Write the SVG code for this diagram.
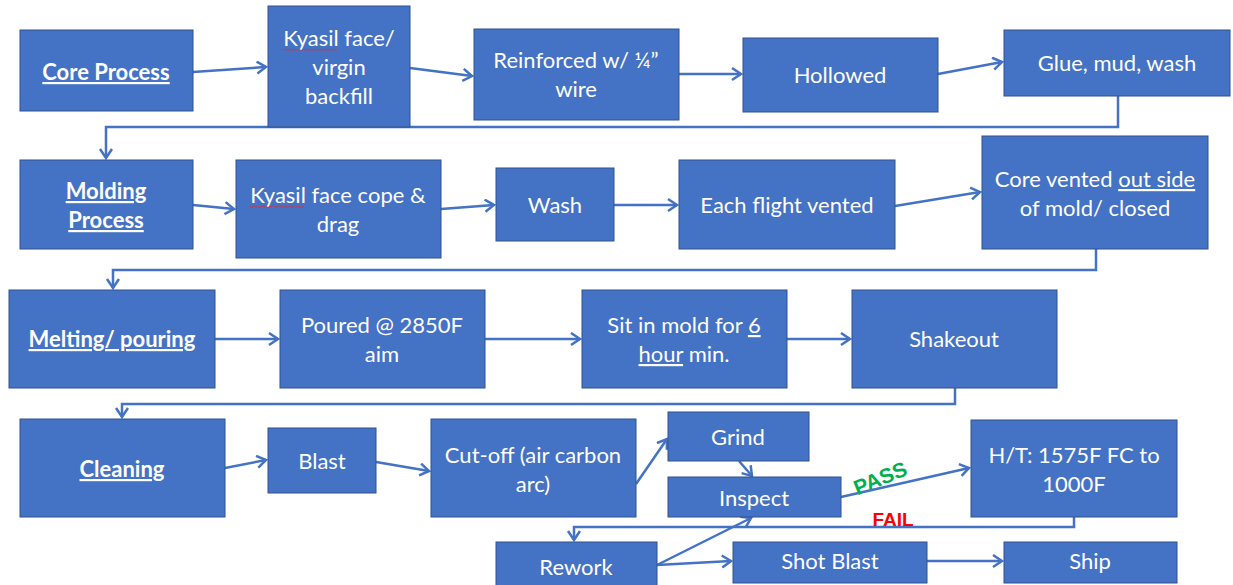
<svg xmlns="http://www.w3.org/2000/svg" width="1233" height="585" viewBox="0 0 1233 585">
<style>
.box{fill:#4472C4;stroke:#2F528F;stroke-width:1}
.t{font-family:Lato,"Open Sans","Liberation Sans",sans-serif;font-size:22px;fill:#fff;text-anchor:middle}
.b{font-weight:bold;text-decoration:underline}
.u{text-decoration:underline}
.c{fill:none;stroke:#4472C4;stroke-width:2.5;marker-end:url(#ah)}
.sq{fill:none;stroke:#E03030;stroke-width:0.8}
.lbl{font-family:"Liberation Sans",Arial,sans-serif;font-size:19px;font-weight:bold;text-anchor:middle}
</style>
<defs>
<marker id="ah" markerUnits="userSpaceOnUse" markerWidth="16" markerHeight="16" refX="11" refY="7" orient="auto">
<path d="M2,1 L11,7 L2,13" fill="none" stroke="#4472C4" stroke-width="2.5"/>
</marker>
</defs>
<rect width="1233" height="585" fill="#fff"/>

<g id="connectors">
<path class="c" d="M193,72 L266,67"/>
<path class="c" d="M410,68 L472,76"/>
<path class="c" d="M679,74 L741,74"/>
<path class="c" d="M938,74 L1002,62"/>
<path class="c" d="M1118,96 V127 H106 V158"/>
<path class="c" d="M193,205 L234,209"/>
<path class="c" d="M441,209 L494,205"/>
<path class="c" d="M614,205 L677,205"/>
<path class="c" d="M895,206 L980,192"/>
<path class="c" d="M1096,249 V270 H113 V288"/>
<path class="c" d="M215,339 L278,339"/>
<path class="c" d="M485,339 L580,339"/>
<path class="c" d="M787,339 L850,339"/>
<path class="c" d="M955,388 V404 H122 V417"/>
<path class="c" d="M225,468 L266,460"/>
<path class="c" d="M376,462 L429,471"/>
<path class="c" d="M636,484 L667,439"/>
<path class="c" d="M739,461 L752,476"/>
<path class="c" d="M841,497 L969,468"/>
<path class="c" d="M1074,517 V527 H574 V540"/>
<path class="c" d="M657,565 L751,518"/>
<path class="c" d="M657,565 L731,561"/>
<path class="c" d="M927,561 L1002,561"/>
<text class="lbl" x="0" y="0" fill="#00B050" style="font-size:21px" transform="translate(883,485) rotate(-22)">PASS</text>
<text class="lbl" x="893" y="526" fill="#FF0000">FAIL</text>
</g>

<g id="core-process"><rect class="box" x="20" y="30" width="173" height="81"/><text class="t b" x="106" y="80">Core Process</text></g>
<g id="kyasil-virgin"><rect class="box" x="268" y="6" width="142" height="121"/>
<text class="t" x="339" y="46">Kyasil face/</text><text class="t" x="339" y="75">virgin</text><text class="t" x="339" y="104">backfill</text>
<path class="sq" d="M283,49 l2,1.5 l2,-1.5 l2,1.5 l2,-1.5 l2,1.5 l2,-1.5 l2,1.5 l2,-1.5 l2,1.5 l2,-1.5 l2,1.5 l2,-1.5 l2,1.5 l2,-1.5 l2,1.5 l2,-1.5 l2,1.5 l2,-1.5 l2,1.5 l2,-1.5 l2,1.5 l2,-1.5 l2,1.5 l2,-1.5 l2,1.5 l2,-1.5 l2,1.5"/></g>
<g id="reinforced"><rect class="box" x="474" y="29" width="205" height="91"/><text class="t" x="576" y="68">Reinforced w/ ¼”</text><text class="t" x="576" y="97">wire</text></g>
<g id="hollowed"><rect class="box" x="743" y="38" width="195" height="74"/><text class="t" x="840" y="83">Hollowed</text></g>
<g id="glue"><rect class="box" x="1004" y="30" width="226" height="66"/><text class="t" x="1117" y="71">Glue, mud, wash</text></g>

<g id="molding-process"><rect class="box" x="20" y="160" width="173" height="89"/><text class="t b" x="106" y="199">Molding</text><text class="t b" x="106" y="228">Process</text></g>
<g id="kyasil-cope"><rect class="box" x="236" y="160" width="205" height="98"/><text class="t" x="338" y="203">Kyasil face cope &amp;</text><text class="t" x="338" y="232">drag</text>
<path class="sq" d="M250,206 l2,1.5 l2,-1.5 l2,1.5 l2,-1.5 l2,1.5 l2,-1.5 l2,1.5 l2,-1.5 l2,1.5 l2,-1.5 l2,1.5 l2,-1.5 l2,1.5 l2,-1.5 l2,1.5 l2,-1.5 l2,1.5 l2,-1.5 l2,1.5 l2,-1.5 l2,1.5 l2,-1.5 l2,1.5 l2,-1.5 l2,1.5 l2,-1.5 l2,1.5"/></g>
<g id="wash"><rect class="box" x="496" y="168" width="118" height="73"/><text class="t" x="555" y="213">Wash</text></g>
<g id="each-flight"><rect class="box" x="679" y="160" width="216" height="89"/><text class="t" x="787" y="213">Each flight vented</text></g>
<g id="core-vented"><rect class="box" x="982" y="136" width="226" height="113"/><text class="t" x="1095" y="187">Core vented <tspan class="u">out side</tspan></text><text class="t" x="1095" y="216">of mold/ closed</text></g>

<g id="melting"><rect class="box" x="9" y="290" width="206" height="98"/><text class="t b" x="112" y="347">Melting/ pouring</text></g>
<g id="poured"><rect class="box" x="280" y="290" width="205" height="98"/><text class="t" x="382" y="333">Poured @ 2850F</text><text class="t" x="382" y="362">aim</text></g>
<g id="sit-in-mold"><rect class="box" x="582" y="290" width="205" height="98"/><text class="t" x="684" y="333">Sit in mold for <tspan class="u">6 </tspan></text><text class="t" x="684" y="362"><tspan class="u">hour</tspan> min.</text></g>
<g id="shakeout"><rect class="box" x="852" y="290" width="205" height="98"/><text class="t" x="954" y="347">Shakeout</text></g>

<g id="cleaning"><rect class="box" x="20" y="419" width="205" height="98"/><text class="t b" x="122" y="477">Cleaning</text></g>
<g id="blast"><rect class="box" x="268" y="428" width="108" height="65"/><text class="t" x="322" y="469">Blast</text></g>
<g id="cut-off"><rect class="box" x="431" y="419" width="205" height="98"/><text class="t" x="533" y="463">Cut-off (air carbon</text><text class="t" x="533" y="492">arc)</text></g>
<g id="grind"><rect class="box" x="668" y="412" width="141" height="49"/><text class="t" x="738" y="445">Grind</text></g>
<g id="inspect"><rect class="box" x="668" y="477" width="173" height="40"/><text class="t" x="754" y="506">Inspect</text></g>
<g id="ht"><rect class="box" x="971" y="420" width="206" height="97"/><text class="t" x="1074" y="463">H/T: 1575F FC to</text><text class="t" x="1074" y="492">1000F</text></g>
<g id="rework"><rect class="box" x="496" y="542" width="161" height="45"/><text class="t" x="576" y="575">Rework</text></g>
<g id="shot-blast"><rect class="box" x="733" y="542" width="194" height="41"/><text class="t" x="830" y="569">Shot Blast</text></g>
<g id="ship"><rect class="box" x="1004" y="542" width="173" height="41"/><text class="t" x="1090" y="569">Ship</text></g>
</svg>
